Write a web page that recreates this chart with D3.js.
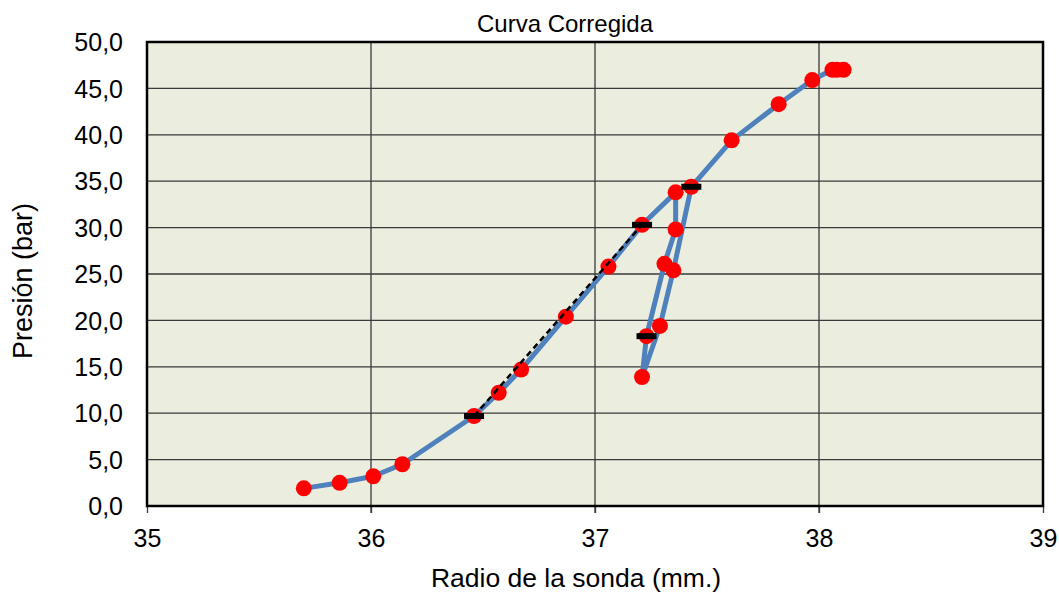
<!DOCTYPE html>
<html>
<head>
<meta charset="utf-8">
<script src="https://cdn.jsdelivr.net/npm/d3@7"></script>
<style>
  html, body { margin: 0; padding: 0; background: #fff; }
  svg text { font-family: "Liberation Sans", Arial, sans-serif; fill: #000; }
</style>
</head>
<body>
<svg id="chart" width="1059" height="594"></svg>
<script>
// ---- data ----
const chartTitle = "Curva Corregida";
const xTitle = "Radio de la sonda (mm.)";
const yTitle = "Presión (bar)";
const xTicks = [35, 36, 37, 38, 39];
const yTicks = [0, 5, 10, 15, 20, 25, 30, 35, 40, 45, 50];
const radio   = [35.70, 35.86, 36.01, 36.14, 36.46, 36.57, 36.67, 36.87, 37.06, 37.21, 37.36, 37.36, 37.31, 37.23, 37.21, 37.29, 37.35, 37.43, 37.61, 37.82, 37.97, 38.06, 38.08, 38.11];
const presion = [1.9, 2.5, 3.2, 4.5, 9.7, 12.2, 14.7, 20.4, 25.8, 30.3, 33.8, 29.8, 26.1, 18.3, 13.9, 19.4, 25.4, 34.4, 39.4, 43.3, 45.9, 47.0, 47.0, 47.0];
// marked points (black bars)
const markRadio   = [36.46, 37.21, 37.43, 37.23];
const markPresion = [9.7, 30.3, 34.4, 18.3];
// dashed fit line endpoints
const fitRadio   = [36.46, 37.21];
const fitPresion = [9.7, 30.3];

// ---- layout ----
const svg = d3.select("#chart");
const W = 1059, H = 594;
const m = {left: 147, right: 16, top: 42, bottom: 88};
const x = d3.scaleLinear().domain([35, 39]).range([m.left, W - m.right]);
const y = d3.scaleLinear().domain([0, 50]).range([H - m.bottom, m.top]);
const fmtY = v => d3.format(".1f")(v).replace(".", ",");
const FONT = '"Liberation Sans", Arial, sans-serif';

// plot background
svg.append("rect")
  .attr("x", x(35)).attr("y", y(50))
  .attr("width", x(39) - x(35)).attr("height", y(0) - y(50))
  .attr("fill", "#EBEEDF");

// grid
svg.append("g").selectAll("line").data(yTicks.slice(1, -1)).join("line")
  .attr("x1", x(35)).attr("x2", x(39))
  .attr("y1", d => y(d)).attr("y2", d => y(d))
  .attr("stroke", "#3a3a3a").attr("stroke-width", 1.3);
svg.append("g").selectAll("line").data(xTicks.slice(1, -1)).join("line")
  .attr("x1", d => x(d)).attr("x2", d => x(d))
  .attr("y1", y(50)).attr("y2", y(0) + 7)
  .attr("stroke", "#3a3a3a").attr("stroke-width", 1.3);

// axes (labels only)
const xAxis = svg.append("g")
  .attr("transform", `translate(0,${y(0)})`)
  .call(d3.axisBottom(x).tickValues(xTicks).tickSize(7).tickFormat(d3.format("d")));
xAxis.select(".domain").remove();
xAxis.selectAll("line").attr("stroke", "#3a3a3a").attr("stroke-width", 1.3);
xAxis.selectAll("text").attr("font-size", 25).attr("dy", 0).attr("y", 41)
  .style("font-family", FONT);

const yAxis = svg.append("g")
  .attr("transform", `translate(${x(35)},0)`)
  .call(d3.axisLeft(y).tickValues(yTicks).tickSize(0).tickPadding(24).tickFormat(fmtY));
yAxis.select(".domain").remove();
yAxis.selectAll("text").attr("font-size", 25).attr("dy", "0.35em")
  .style("font-family", FONT);

// plot border
svg.append("rect")
  .attr("x", x(35)).attr("y", y(50))
  .attr("width", x(39) - x(35)).attr("height", y(0) - y(50))
  .attr("fill", "none").attr("stroke", "#000").attr("stroke-width", 2.5);

// main line
const pts = radio.map((r, i) => [r, presion[i]]);
const line = d3.line().x(d => x(d[0])).y(d => y(d[1]));
svg.append("path").datum(pts)
  .attr("d", line)
  .attr("fill", "none").attr("stroke", "#4F81BD")
  .attr("stroke-width", 5).attr("stroke-linejoin", "round");

// markers
svg.append("g").selectAll("circle").data(pts).join("circle")
  .attr("cx", d => x(d[0])).attr("cy", d => y(d[1]))
  .attr("r", 8).attr("fill", "#FF0000");

// dashed fit line
const fit = fitRadio.map((r, i) => [r, fitPresion[i]]);
svg.append("path").datum(fit)
  .attr("d", line)
  .attr("fill", "none").attr("stroke", "#000")
  .attr("stroke-width", 2.5).attr("stroke-dasharray", "6,4");

// black bar marks
const marks = markRadio.map((r, i) => [r, markPresion[i]]);
svg.append("g").selectAll("rect").data(marks).join("rect")
  .attr("x", d => x(d[0]) - 10).attr("y", d => y(d[1]) - 3)
  .attr("width", 20).attr("height", 6).attr("fill", "#000");

// titles
svg.append("text")
  .attr("x", 565).attr("y", 32)
  .attr("text-anchor", "middle").attr("font-size", 24)
  .text(chartTitle);
svg.append("text")
  .attr("x", 576).attr("y", 587)
  .attr("text-anchor", "middle").attr("font-size", 26.5)
  .text(xTitle);
svg.append("text")
  .attr("transform", `translate(32,${281}) rotate(-90)`)
  .attr("text-anchor", "middle").attr("font-size", 27)
  .text(yTitle);
</script>
</body>
</html>
